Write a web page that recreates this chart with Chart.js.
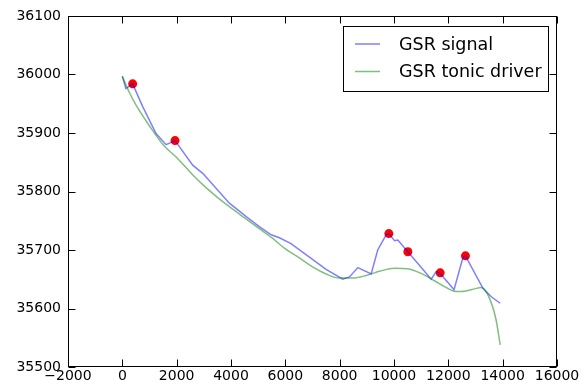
<!DOCTYPE html>
<html><head><meta charset="utf-8">
<script src="https://cdn.jsdelivr.net/npm/chart.js@4/dist/chart.umd.min.js"></script>
<style>html,body{margin:0;padding:0;background:#fff}</style>
</head><body>
<canvas id="c" width="585" height="387"></canvas>
<script>
const seriesLabels = ['GSR signal', 'GSR tonic driver'];
const signalX = [0, 130, 380, 750, 1240, 1610, 1940, 2590, 2960, 3940, 4560, 5040, 5480, 5780, 6210, 7500, 8115, 8360, 8670, 9160, 9400, 9710, 9810, 10020, 10140, 10510, 11370, 11550, 11700, 12210, 12530, 12630, 13270, 13580, 13910];
const signalY = [35997, 35976, 35984, 35945, 35899, 35880, 35887, 35845, 35831, 35780, 35757, 35740, 35726, 35721, 35711, 35667, 35650, 35654, 35670, 35659, 35700, 35726, 35728, 35716, 35717, 35697, 35650, 35663, 35660, 35632, 35686, 35690, 35635, 35620, 35609];
const tonicX = [0, 250, 500, 1000, 1500, 2000, 2500, 3000, 3500, 4000, 4500, 5000, 5500, 6000, 6500, 7000, 7500, 8000, 8500, 9000, 9500, 10000, 10500, 11000, 11500, 12000, 12250, 12500, 13000, 13200, 13500, 13750, 13910];
const tonicY = [35997, 35970, 35948, 35912, 35880, 35858, 35833, 35810, 35790, 35772, 35755, 35738, 35721, 35702, 35687, 35671, 35659, 35652, 35652, 35657, 35664, 35669, 35668, 35660, 35647, 35634, 35629, 35629, 35634, 35636, 35619, 35582, 35538];
const peakX = [380, 1940, 9810, 10510, 11700, 12630];
const peakY = [35984, 35887, 35728, 35697, 35661, 35690];
const xTicks = {min: -2000, max: 16000, step: 2000};
const yTicks = {min: 35500, max: 36100, step: 100};

const FONT = 'DejaVu Sans';
const zip = (xs, ys) => xs.map((x, i) => ({x, y: ys[i]}));
const fmt = v => String(v).replace('-', '\u2212');

const framePlugin = {
  id: 'frame',
  afterDraw(chart) {
    const {ctx, chartArea: a, scales} = chart;
    ctx.save();
    ctx.strokeStyle = '#000';
    ctx.lineWidth = 1;
    const L = Math.round(a.left) + 0.5, R = Math.round(a.right) - 0.5;
    const T = Math.round(a.top) + 0.5, B = Math.round(a.bottom) - 0.5;
    ctx.beginPath();
    const tl = 7;
    scales.x.ticks.forEach(t => {
      const p = Math.round(scales.x.getPixelForValue(t.value)) + 0.5;
      ctx.moveTo(p, B); ctx.lineTo(p, B - tl);
      ctx.moveTo(p, T); ctx.lineTo(p, T + tl);
    });
    scales.y.ticks.forEach(t => {
      const p = Math.round(scales.y.getPixelForValue(t.value)) + 0.5;
      ctx.moveTo(L, p); ctx.lineTo(L + tl, p);
      ctx.moveTo(R, p); ctx.lineTo(R - tl, p);
    });
    ctx.stroke();
    ctx.strokeRect(L, T, R - L, B - T);
    // legend
    const lx = 343.5, ly = 26.5, lw = 205, lh = 65;
    ctx.fillStyle = '#fff';
    ctx.fillRect(lx, ly, lw, lh);
    ctx.strokeRect(lx, ly, lw, lh);
    const rows = [44, 71.5];
    ctx.font = '17.5px "' + FONT + '"';
    ctx.textBaseline = 'middle';
    ctx.textAlign = 'left';
    [0, 1].forEach(i => {
      const ds = chart.data.datasets[i];
      ctx.strokeStyle = ds.borderColor;
      ctx.lineWidth = 1.5;
      ctx.beginPath();
      ctx.moveTo(355, rows[i]); ctx.lineTo(380, rows[i]);
      ctx.stroke();
      ctx.fillStyle = '#000';
      ctx.fillText(ds.label, 399, rows[i] + 1);
    });
    ctx.restore();
  }
};

new Chart(document.getElementById('c'), {
  type: 'scatter',
  data: {
    datasets: [
      {label: seriesLabels[0], data: zip(signalX, signalY), showLine: true, borderColor: 'rgba(0,0,255,0.5)', borderWidth: 1.5, pointRadius: 0, tension: 0, order: 2},
      {label: seriesLabels[1], data: zip(tonicX, tonicY), showLine: true, borderColor: 'rgba(0,128,0,0.5)', borderWidth: 1.5, pointRadius: 0, cubicInterpolationMode: 'monotone', order: 1},
      {label: 'peaks', data: zip(peakX, peakY), showLine: false, backgroundColor: '#ff0000', borderWidth: 0, pointRadius: 4.5, order: 3}
    ]
  },
  options: {
    responsive: false, animation: false, devicePixelRatio: 1,
    layout: {padding: {top: 16, right: 28, left: 0, bottom: 0}},
    plugins: {legend: {display: false}, tooltip: {enabled: false}},
    scales: {
      x: {
        type: 'linear', min: xTicks.min, max: xTicks.max,
        ticks: {stepSize: xTicks.step, autoSkip: false, maxRotation: 0, padding: 1, color: '#000', font: {family: FONT, size: 14}, callback: fmt},
        grid: {display: false, drawTicks: false}, border: {display: false},
        afterFit: s => { s.height = 20; }
      },
      y: {
        type: 'linear', min: yTicks.min, max: yTicks.max,
        ticks: {stepSize: yTicks.step, padding: 7, color: '#000', font: {family: FONT, size: 14}, callback: fmt},
        grid: {display: false, drawTicks: false}, border: {display: false},
        afterFit: s => { s.width = 68; }
      }
    }
  },
  plugins: [framePlugin]
});
</script>
</body></html>
